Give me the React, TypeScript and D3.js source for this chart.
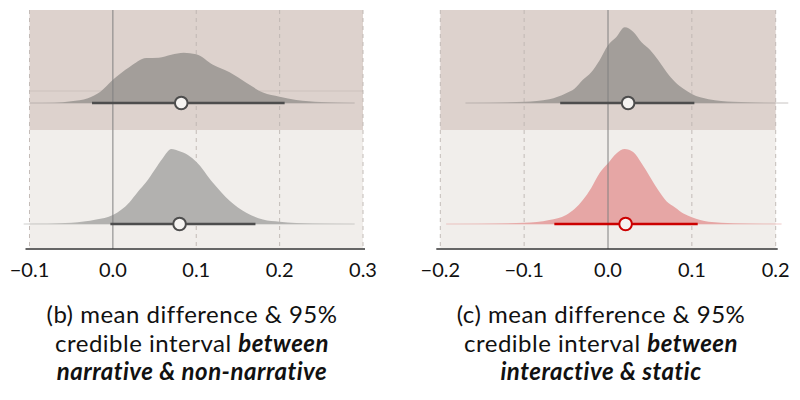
import React from "react";
import * as d3 from "d3";

// ---------- data ----------
const leftDomain: [number, number] = [-0.1, 0.3];
const rightDomain: [number, number] = [-0.2, 0.2];
const leftTicks = [-0.1, 0.0, 0.1, 0.2, 0.3];
const rightTicks = [-0.2, -0.1, 0.0, 0.1, 0.2];

// density curves: x positions and density values
const ltX = [-0.1, -0.07, -0.05, -0.03, -0.015, 0, 0.02, 0.04, 0.055, 0.07, 0.085, 0.1, 0.12, 0.14, 0.16, 0.18, 0.2, 0.22, 0.25, 0.29];
const ltD = [0, 0.05, 0.25, 0.65, 1.5, 3.1, 4.8, 6.0, 6.05, 6.45, 6.7, 6.5, 5.1, 4.1, 2.7, 1.4, 0.85, 0.4, 0.12, 0];
const lbX = [-0.107, -0.05, -0.02, 0, 0.02, 0.03, 0.04, 0.05, 0.06, 0.07, 0.08, 0.09, 0.1, 0.12, 0.14, 0.16, 0.18, 0.2, 0.24, 0.29];
const lbD = [0, 0.17, 0.6, 1.2, 2.9, 4.3, 5.6, 7.2, 8.8, 10.0, 9.7, 9.2, 8.3, 5.5, 3.1, 1.5, 0.6, 0.3, 0.07, 0];
const rtX = [-0.17, -0.1, -0.07, -0.05, -0.04, -0.03, -0.02, -0.01, 0, 0.01, 0.02, 0.03, 0.04, 0.05, 0.06, 0.07, 0.08, 0.09, 0.1, 0.12, 0.15, 0.215];
const rtD = [0, 0.17, 0.5, 1.3, 1.9, 3.1, 4.1, 5.7, 7.7, 8.8, 10.1, 9.5, 8.1, 7.1, 5.7, 4.1, 2.8, 1.9, 1.2, 0.5, 0.16, 0];
const rbX = [-0.193, -0.1, -0.07, -0.05, -0.04, -0.03, -0.02, -0.01, 0, 0.01, 0.02, 0.03, 0.04, 0.05, 0.06, 0.07, 0.08, 0.09, 0.1, 0.12, 0.15, 0.207];
const rbD = [0, 0.17, 0.53, 1.2, 2.0, 3.2, 4.8, 6.8, 8.1, 9.4, 10.0, 9.6, 8.1, 6.3, 4.5, 3.0, 2.2, 1.4, 0.9, 0.3, 0.1, 0];

// mean and 95% credible intervals
const ltInterval = [-0.025, 0.206];
const ltMean = 0.082;
const lbInterval = [-0.003, 0.171];
const lbMean = 0.08;
const rtInterval = [-0.057, 0.103];
const rtMean = 0.024;
const rbInterval = [-0.064, 0.107];
const rbMean = 0.021;

const leftCaption = ["(b) mean difference & 95%", "credible interval ", "between", "narrative & non-narrative"];
const rightCaption = ["(c) mean difference & 95%", "credible interval ", "between", "interactive & static"];

// ---------- styles ----------
const FONT = "Lato, 'Open Sans', sans-serif";
const TOP_BG = "#ddd2cd";
const BOT_BG = "#f1eeeb";
const GRID = "#bdb5b1";

type Slab = {
  xs: number[];
  ds: number[];
  interval: number[];
  mean: number;
  fill: string;
  line: string;
  id: string;
};

const fmt = (v: number) => (v < 0 ? "\u2212" : "") + Math.abs(v).toFixed(1);

function Panel({
  domain,
  range,
  ticks,
  top,
  bottom,
  extraLine,
  idp,
}: {
  domain: [number, number];
  range: [number, number];
  ticks: number[];
  top: Slab;
  bottom: Slab;
  extraLine?: boolean;
  idp: string;
}) {
  const x = d3.scaleLinear().domain(domain).range(range);
  const h = d3.scaleLinear().domain([0, 10]).range([0, 75]);
  const bandTop = 10;
  const bandMid = 130;
  const bandBot = 248;
  const axisY = 249;
  const rows = [
    { slab: top, base: 103 },
    { slab: bottom, base: 224 },
  ];
  return (
    <g>
      <rect x={range[0]} y={bandTop} width={range[1] - range[0]} height={bandMid - bandTop} fill={TOP_BG} />
      <rect x={range[0]} y={bandMid} width={range[1] - range[0]} height={bandBot - bandMid} fill={BOT_BG} />
      {ticks.map((t) =>
        t === 0 ? null : (
          <line key={t} x1={x(t)} x2={x(t)} y1={bandTop} y2={axisY} stroke={GRID} strokeWidth={0.9} strokeDasharray="4,4" />
        )
      )}
      {extraLine && (
        <line x1={range[0]} x2={range[1]} y1={91} y2={91} stroke="#000" strokeOpacity={0.07} strokeWidth={1} />
      )}
      <defs>
        {rows.map(({ slab }) => {
          const x0 = slab.xs[0];
          const x1 = slab.xs[slab.xs.length - 1];
          const pct = (v: number) => ((v - x0) / (x1 - x0)) * 100 + "%";
          return (
            <linearGradient key={slab.id} id={idp + slab.id} gradientUnits="userSpaceOnUse" x1={x(x0)} x2={x(x1)} y1={0} y2={0}>
              <stop offset="0%" stopColor={slab.fill} stopOpacity={0.3} />
              <stop offset={pct(slab.interval[0] - 0.03)} stopColor={slab.fill} stopOpacity={1} />
              <stop offset={pct(slab.interval[1] + 0.03)} stopColor={slab.fill} stopOpacity={1} />
              <stop offset="100%" stopColor={slab.fill} stopOpacity={0.3} />
            </linearGradient>
          );
        })}
      </defs>
      {rows.map(({ slab, base }) => {
        const pts: [number, number][] = slab.xs.map((v, i) => [v, slab.ds[i]]);
        const area = d3
          .area<[number, number]>()
          .x((d) => x(d[0]))
          .y0(base)
          .y1((d) => base - h(d[1]))
          .curve(d3.curveMonotoneX);
        return (
          <g key={slab.id}>
            <path d={area(pts) || ""} fill={`url(#${idp + slab.id})`} />
            <line
              x1={x(slab.xs[0])}
              x2={x(slab.xs[slab.xs.length - 1])}
              y1={base}
              y2={base}
              stroke={slab.fill}
              strokeWidth={1}
              strokeOpacity={0.6}
            />
          </g>
        );
      })}
      <line x1={x(0)} x2={x(0)} y1={bandTop} y2={axisY} stroke="#808080" strokeWidth={1} />
      {rows.map(({ slab, base }) => (
        <g key={slab.id + "i"}>
          <line x1={x(slab.interval[0])} x2={x(slab.interval[1])} y1={base} y2={base} stroke={slab.line} strokeWidth={2.6} />
          <circle cx={x(slab.mean)} cy={base} r={6.3} fill="#f5f3f1" stroke={slab.line} strokeWidth={2} />
        </g>
      ))}
      <line x1={range[0] - 4} x2={range[1] + 2} y1={axisY} y2={axisY} stroke="#333" strokeWidth={1.4} />
      {ticks.map((t) => (
        <text key={t} x={x(t)} y={277} textAnchor="middle" fontSize={20} fill="#111" fontFamily={FONT}>
          {fmt(t)}
        </text>
      ))}
    </g>
  );
}

function Caption({ lines, cx }: { lines: string[]; cx: number }) {
  return (
    <text textAnchor="middle" fontFamily={FONT} fontSize={24} fill="#111" letterSpacing={0.5}>
      <tspan x={cx} y={322.5}>{lines[0]}</tspan>
      <tspan x={cx} y={351.5}>
        {lines[1]}
        <tspan fontWeight={700} fontStyle="italic">{lines[2]}</tspan>
      </tspan>
      <tspan x={cx} y={380} fontWeight={700} fontStyle="italic">
        {lines[3]}
      </tspan>
    </text>
  );
}

export default function App() {
  const gray1 = "#a39e9a";
  const gray2 = "#b2b1af";
  const dark = "#4d4d4d";
  return (
    <svg width={800} height={400} style={{ position: "absolute", left: 0, top: 0, background: "#fff" }}>
      <rect width={800} height={400} fill="#fff" />
      <Panel
        idp="L"
        domain={leftDomain}
        range={[29.5, 363]}
        ticks={leftTicks}
        extraLine
        top={{ xs: ltX, ds: ltD, interval: ltInterval, mean: ltMean, fill: gray1, line: dark, id: "t" }}
        bottom={{ xs: lbX, ds: lbD, interval: lbInterval, mean: lbMean, fill: gray2, line: dark, id: "b" }}
      />
      <Panel
        idp="R"
        domain={rightDomain}
        range={[440.3, 775.7]}
        ticks={rightTicks}
        top={{ xs: rtX, ds: rtD, interval: rtInterval, mean: rtMean, fill: gray1, line: dark, id: "t" }}
        bottom={{ xs: rbX, ds: rbD, interval: rbInterval, mean: rbMean, fill: "#e6a6a5", line: "#cc0000", id: "b" }}
      />
      <Caption lines={leftCaption} cx={192} />
      <Caption lines={rightCaption} cx={601} />
    </svg>
  );
}
